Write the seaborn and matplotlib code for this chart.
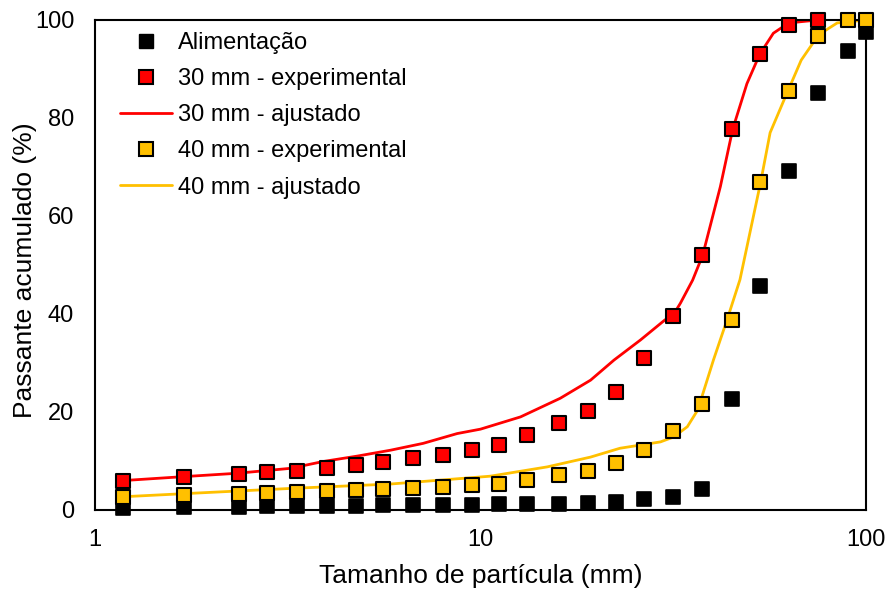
import numpy as np
import pandas as pd
import matplotlib
matplotlib.use("Agg")
import matplotlib.pyplot as plt
import seaborn as sns
from matplotlib.lines import Line2D
from matplotlib.ticker import LogLocator, MultipleLocator, FixedLocator, NullFormatter

# ---- data ----
sizes = [1.18, 1.7, 2.36, 2.8, 3.35, 4.0, 4.75, 5.6, 6.7, 8.0, 9.5, 11.2, 13.2,
         16.0, 19.0, 22.4, 26.5, 31.5, 37.5, 45.0, 53.0, 63.0, 75.0, 90.0, 100.0]
alimentacao = [0.5, 0.6, 0.7, 0.8, 0.8, 0.9, 0.9, 1.0, 1.0, 1.1, 1.1, 1.2, 1.2,
               1.3, 1.4, 1.6, 2.2, 2.7, 4.2, 22.7, 45.7, 69.2, 85.1, 93.7, 97.6]
exp30 = [6.0, 6.8, 7.3, 7.7, 8.0, 8.5, 9.1, 9.8, 10.6, 11.2, 12.2, 13.2, 15.3,
         17.8, 20.2, 24.1, 31.0, 39.6, 52.0, 77.7, 93.0, 99.0, 100.0]
exp40 = [2.7, 3.0, 3.3, 3.5, 3.6, 3.8, 4.0, 4.2, 4.4, 4.7, 5.1, 5.4, 6.1,
         7.1, 7.9, 9.5, 12.2, 16.1, 21.6, 38.8, 66.9, 85.5, 96.7, 100.0, 100.0]

fit30_x = [1.18, 1.69, 2.34, 3.21, 3.91, 4.79, 5.84, 7.1, 8.7, 10.0, 12.7, 16.1,
           19.3, 22.2, 26.0, 30.1, 31.5, 33.0, 35.5, 37.7, 41.9, 45.1, 49.1,
           53.0, 57.5, 63.0, 75.0]
fit30_y = [6.0, 6.8, 7.5, 8.5, 9.9, 11.0, 12.2, 13.6, 15.6, 16.5, 19.0, 22.8,
           26.5, 30.6, 34.7, 38.8, 39.6, 42.2, 46.9, 52.0, 66.0, 77.7, 87.0,
           93.0, 97.3, 99.4, 100.0]
fit40_x = [1.18, 1.77, 3.21, 5.84, 10.6, 14.9, 19.3, 23.0, 29.3, 31.7, 34.4,
           36.6, 40.2, 43.6, 47.1, 53.3, 56.4, 61.3, 67.9, 75.4, 84.2, 100.0]
fit40_y = [2.7, 3.4, 4.4, 5.3, 6.9, 8.8, 10.8, 12.6, 13.9, 14.9, 17.0, 20.4,
           30.6, 38.8, 47.0, 66.9, 77.0, 83.7, 91.8, 97.0, 99.4, 100.0]

labels = ["Alimentação", "30 mm - experimental", "30 mm - ajustado",
          "40 mm - experimental", "40 mm - ajustado"]
xtick_vals = [1, 10, 100]
xtick_labels = ["1", "10", "100"]
red = "#FF0000"
gold = "#FFC000"

sns.set_style("white")
plt.rcParams["font.family"] = ["Liberation Sans", "DejaVu Sans"]
plt.rcParams["text.color"] = "black"
plt.rcParams["axes.labelcolor"] = "black"

W, H = 889, 591
fig = plt.figure(figsize=(W / 100, H / 100), dpi=100)
ax_l, ax_r, ax_t, ax_b = 95, 866, 20, 510
ax = fig.add_axes([ax_l / W, 1 - ax_b / H, (ax_r - ax_l) / W, (ax_b - ax_t) / H])

df_al = pd.DataFrame({"x": sizes, "y": alimentacao})
df30 = pd.DataFrame({"x": sizes[:len(exp30)], "y": exp30})
df40 = pd.DataFrame({"x": sizes[:len(exp40)], "y": exp40})
f30 = pd.DataFrame({"x": fit30_x, "y": fit30_y})
f40 = pd.DataFrame({"x": fit40_x, "y": fit40_y})

sns.lineplot(data=f30, x="x", y="y", color=red, lw=2, ax=ax, zorder=2, sort=False)
sns.lineplot(data=f40, x="x", y="y", color=gold, lw=2, ax=ax, zorder=2, sort=False)
ms = 100
sns.scatterplot(data=df_al, x="x", y="y", marker="s", s=ms, color="black",
                edgecolor="black", linewidth=1.2, ax=ax, zorder=3, clip_on=False)
sns.scatterplot(data=df30, x="x", y="y", marker="s", s=ms, color=red,
                edgecolor="black", linewidth=1.5, ax=ax, zorder=4, clip_on=False)
sns.scatterplot(data=df40, x="x", y="y", marker="s", s=ms, color=gold,
                edgecolor="black", linewidth=1.5, ax=ax, zorder=5, clip_on=False)

ax.set_xscale("log")
ax.set_xlim(1, 100)
ax.set_ylim(0, 100)
ax.xaxis.set_major_locator(FixedLocator(xtick_vals))
ax.set_xticklabels(xtick_labels)
ax.xaxis.set_minor_locator(LogLocator(base=10, subs=np.arange(2, 10)))
ax.xaxis.set_minor_formatter(NullFormatter())
ax.yaxis.set_major_locator(MultipleLocator(20))
ax.yaxis.set_minor_locator(MultipleLocator(10))

for s in ax.spines.values():
    s.set_color("black")
    s.set_linewidth(1.5)
ax.tick_params(which="both", direction="in", color="black", width=1.3,
               length=5, labelsize=17, labelcolor="black")
ax.tick_params(axis="x", which="major", pad=14)
ax.tick_params(axis="y", which="major", pad=15)

ax.set_xlabel("Tamanho de partícula (mm)", fontsize=19, va="top", color="black")
ax.set_ylabel("Passante acumulado (%)", fontsize=19, color="black")
ax.xaxis.set_label_coords(0.5, -(564 - ax_b) / (ax_b - ax_t))
ax.yaxis.set_label_coords(-(ax_l - 37.5) / (ax_r - ax_l), 0.49)

handles = [
    Line2D([], [], marker="s", ls="none", color="black", markersize=10,
           markeredgecolor="black"),
    Line2D([], [], marker="s", ls="none", markerfacecolor=red, markersize=10,
           markeredgecolor="black", markeredgewidth=1.5),
    Line2D([], [], color=red, lw=2),
    Line2D([], [], marker="s", ls="none", markerfacecolor=gold, markersize=10,
           markeredgecolor="black", markeredgewidth=1.5),
    Line2D([], [], color=gold, lw=2),
]
leg = ax.legend(handles, labels, loc="upper left",
                bbox_to_anchor=((120 - ax_l) / (ax_r - ax_l), (ax_b - 32) / (ax_b - ax_t)),
                frameon=False, fontsize=17, handlelength=2.2, handletextpad=0.25,
                labelspacing=0.6, borderpad=0, borderaxespad=0)
for t in leg.get_texts():
    t.set_color("black")

fig.savefig("out.png", dpi=100)
